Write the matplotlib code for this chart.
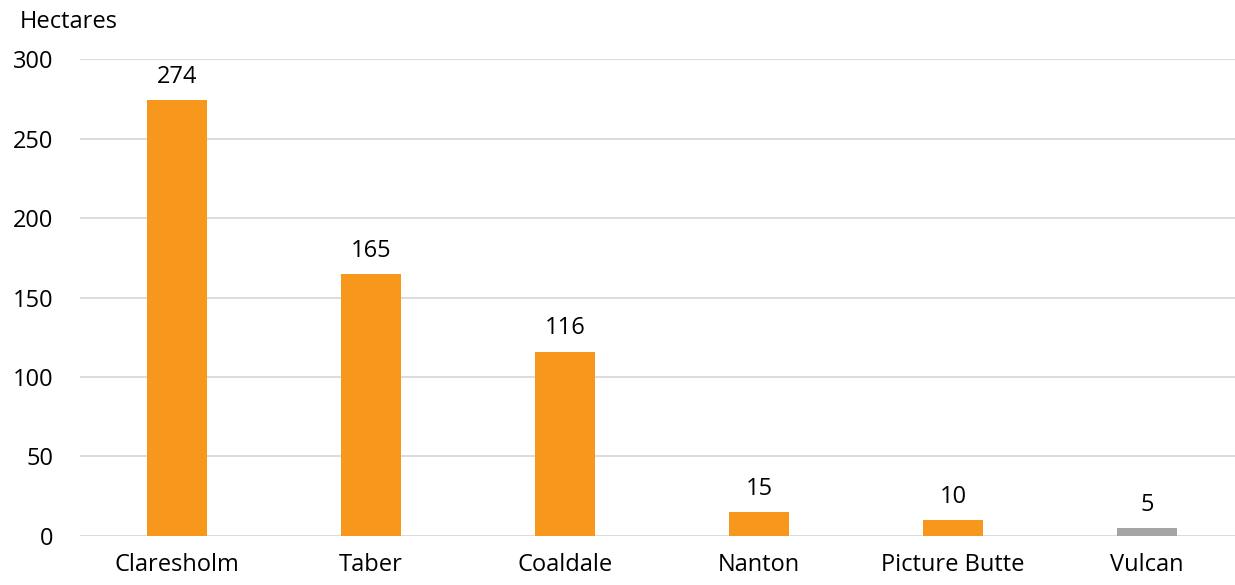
import matplotlib
matplotlib.use('Agg')
import matplotlib.pyplot as plt

towns = ['Claresholm', 'Taber', 'Coaldale', 'Nanton', 'Picture Butte', 'Vulcan']
hectares = [274, 165, 116, 15, 10, 5]
colors = ['#F7981D'] * 5 + ['#A5A5A5']
yticks = [0, 50, 100, 150, 200, 250, 300]

plt.rcParams['font.family'] = ['Open Sans', 'DejaVu Sans']

fig = plt.figure(figsize=(12.35, 5.85), dpi=100)
ax = fig.add_axes([0.0648, 0.0838, 0.9425, 0.8152])

x = range(len(towns))
ax.bar(x, hectares, width=0.31, color=colors, zorder=3)
for xi, v in zip(x, hectares):
    ax.annotate(str(v), (xi, v), xytext=(0, 8), textcoords='offset points',
                ha='center', va='bottom', fontsize=17, color='#000000')

ax.set_xlim(-0.5, len(towns) - 0.5)
ax.set_ylim(0, 300)
ax.set_yticks(yticks)
ax.set_xticks(list(x))
ax.set_xticklabels(towns)
ax.grid(axis='y', color='#D9D9D9', linewidth=1.3, zorder=0)
ax.tick_params(axis='both', length=0, labelsize=17, colors='#000000')
ax.tick_params(axis='x', pad=12)
ax.tick_params(axis='y', pad=19)
for s in ax.spines.values():
    s.set_visible(False)

fig.text(0.016, 0.962, 'Hectares', fontsize=17, ha='left', va='center')

fig.savefig('out.png', dpi=100)
